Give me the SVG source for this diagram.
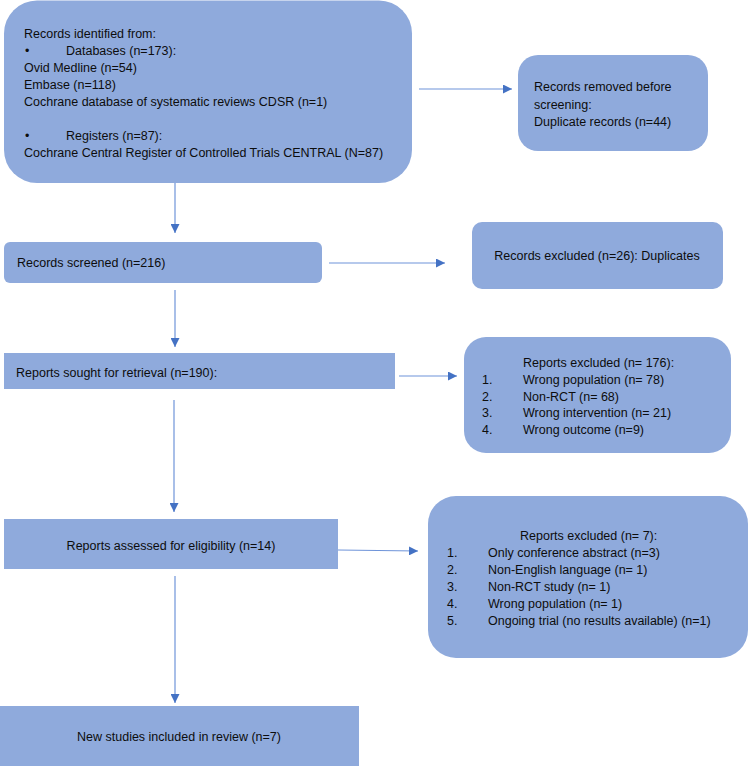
<svg xmlns="http://www.w3.org/2000/svg" width="750" height="769" viewBox="0 0 750 769">
<defs>
<style>
.box{fill:#8faadc;}
.t{font-family:"Liberation Sans",Arial,sans-serif;font-size:12.5px;fill:#0d0d0d;}
.c{text-anchor:middle;}
.ln{stroke:#6f94d9;stroke-width:1.2;fill:none;}
</style>
<marker id="ah" viewBox="0 0 10 10" refX="10" refY="5" markerWidth="9" markerHeight="9" markerUnits="userSpaceOnUse" orient="auto">
<path d="M0,0 L10,5 L0,10 Z" fill="#4472c4"/>
</marker>
</defs>
<rect width="750" height="769" fill="#fff"/>
<g id="connectors">
<line class="ln" x1="175" y1="183" x2="175" y2="233" marker-end="url(#ah)"/>
<line class="ln" x1="419" y1="89" x2="512" y2="89" marker-end="url(#ah)"/>
<line class="ln" x1="329" y1="263" x2="445" y2="263" marker-end="url(#ah)"/>
<line class="ln" x1="175" y1="290" x2="175" y2="347" marker-end="url(#ah)"/>
<line class="ln" x1="399" y1="376" x2="457" y2="376" marker-end="url(#ah)"/>
<line class="ln" x1="174" y1="400" x2="174" y2="512" marker-end="url(#ah)"/>
<line class="ln" x1="338" y1="550" x2="418" y2="551" marker-end="url(#ah)"/>
<line class="ln" x1="175" y1="576" x2="175" y2="703" marker-end="url(#ah)"/>
</g>
<g id="identified">
<rect class="box" x="4" y="0.5" width="408" height="182.5" rx="33"/>
<text class="t" x="24" y="38">Records identified from:</text>
<text class="t" x="25" y="55">•</text>
<text class="t" x="66" y="55">Databases (n=173):</text>
<text class="t" x="24" y="72">Ovid Medline (n=54)</text>
<text class="t" x="24" y="89">Embase (n=118)</text>
<text class="t" x="24" y="106">Cochrane database of systematic reviews CDSR (n=1)</text>
<text class="t" x="25" y="140">•</text>
<text class="t" x="66" y="140">Registers (n=87):</text>
<text class="t" x="24" y="157">Cochrane Central Register of Controlled Trials CENTRAL (N=87)</text>
</g>
<g id="removed">
<rect class="box" x="518" y="55" width="190" height="96" rx="20"/>
<text class="t" x="534" y="91">Records removed before</text>
<text class="t" x="534" y="109">screening:</text>
<text class="t" x="534" y="126">Duplicate records (n=44)</text>
</g>
<g id="screened">
<rect class="box" x="4" y="242" width="318" height="41" rx="6"/>
<text class="t" x="17" y="267">Records screened (n=216)</text>
</g>
<g id="excluded1">
<rect class="box" x="472" y="222" width="251" height="67" rx="10"/>
<text class="t c" x="597" y="260">Records excluded (n=26): Duplicates</text>
</g>
<g id="sought">
<rect class="box" x="4" y="353" width="391" height="36"/>
<text class="t" x="16" y="377">Reports sought for retrieval (n=190):</text>
</g>
<g id="excluded2">
<rect class="box" x="464" y="337" width="267" height="116" rx="22"/>
<text class="t" x="523" y="367">Reports excluded (n= 176):</text>
<text class="t" x="482" y="384">1.</text><text class="t" x="523" y="384">Wrong population (n= 78)</text>
<text class="t" x="482" y="400.5">2.</text><text class="t" x="523" y="400.5">Non-RCT (n= 68)</text>
<text class="t" x="482" y="417">3.</text><text class="t" x="523" y="417">Wrong intervention (n= 21)</text>
<text class="t" x="482" y="433.5">4.</text><text class="t" x="523" y="433.5">Wrong outcome (n=9)</text>
</g>
<g id="eligibility">
<rect class="box" x="4" y="519" width="334" height="50"/>
<text class="t c" x="171" y="550">Reports assessed for eligibility (n=14)</text>
</g>
<g id="excluded3">
<rect class="box" x="428" y="496" width="320" height="162" rx="28"/>
<text class="t" x="520" y="540">Reports excluded (n= 7):</text>
<text class="t" x="447" y="557">1.</text><text class="t" x="488" y="557">Only conference abstract (n=3)</text>
<text class="t" x="447" y="574">2.</text><text class="t" x="488" y="574">Non-English language (n= 1)</text>
<text class="t" x="447" y="591">3.</text><text class="t" x="488" y="591">Non-RCT study (n= 1)</text>
<text class="t" x="447" y="608">4.</text><text class="t" x="488" y="608">Wrong population (n= 1)</text>
<text class="t" x="447" y="625">5.</text><text class="t" x="488" y="625">Ongoing trial (no results available) (n=1)</text>
</g>
<g id="included">
<rect class="box" x="0" y="706" width="359" height="60"/>
<text class="t c" x="179" y="741">New studies included in review (n=7)</text>
</g>
</svg>
